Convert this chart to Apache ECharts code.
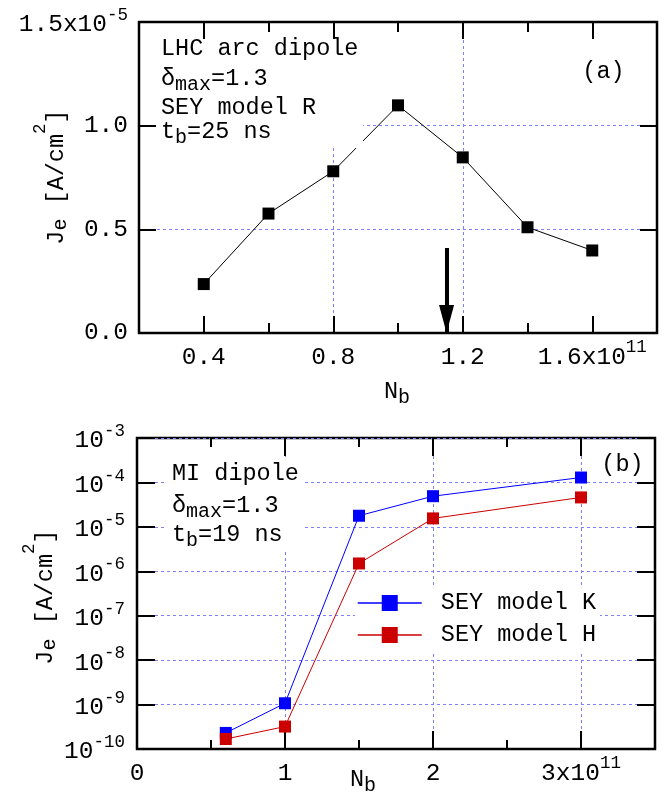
<!DOCTYPE html>
<html>
<head>
<meta charset="utf-8">
<script src="https://cdn.jsdelivr.net/npm/echarts@6/dist/echarts.min.js"></script>
<style>
  html, body { margin: 0; padding: 0; background: #fff; }
  #chart { width: 667px; height: 796px; }
</style>
</head>
<body>
<div id="chart"></div>
<script>
// (a) LHC arc dipole, SEY model R, Je in 1e-5 A/cm2
const nbA = [0.4, 0.6, 0.8, 1.0, 1.2, 1.4, 1.6];
const jeA = [0.236, 0.576, 0.78, 1.098, 0.847, 0.51, 0.398];
const xMajorA = [0.4, 0.8, 1.2, 1.6];
const arrowNb = 1.15, arrowTop = 0.41;

// (b) MI dipole, Nb in 1e11
const nbB = [0.6, 1.0, 1.5, 2.0, 3.0];
const jeK = [2.3e-10, 1.07e-9, 1.78e-5, 4.9e-5, 1.29e-4];
const jeH = [1.68e-10, 3.2e-10, 1.5e-6, 1.55e-5, 4.6e-5];

const FONT = '"Liberation Mono", "DejaVu Sans Mono", monospace';
const tickStyle = { color: '#000', width: 2 };
const gridLine = { color: '#8080ff', width: 1, type: [3, 3] };

const xRich = {
  m: { fontSize: 24.5, fontFamily: FONT, color: '#000', padding: [7, 0, 0, 0] },
  s: { fontSize: 17.5, fontFamily: FONT, color: '#000', verticalAlign: 'top' }
};
const yRich = {
  m: { fontSize: 24.5, fontFamily: FONT, color: '#000', verticalAlign: 'bottom' },
  s: { fontSize: 17.5, fontFamily: FONT, color: '#000', verticalAlign: 'top', padding: [0, 0, 13, 0] }
};
const textRich = {
  n: { fontSize: 23.5, fontFamily: FONT, fill: '#000', verticalAlign: 'top' },
  sub: { fontSize: 20, fontFamily: FONT, fill: '#000', verticalAlign: 'top', padding: [7.6, 0, 0, 0] }
};
const titleRich = {
  n: { fontSize: 23.5, fontFamily: FONT, fill: '#000', verticalAlign: 'top', padding: [13, 0, 0, 0] },
  sub: { fontSize: 20, fontFamily: FONT, fill: '#000', verticalAlign: 'top', padding: [18.75, 0, 0, 0] },
  sup: { fontSize: 17.5, fontFamily: FONT, fill: '#000', verticalAlign: 'top' }
};

function fmtXA(v) { return v === 1.6 ? '{m|1.6x10}{s|11}' : '{m|' + v.toFixed(1) + '}'; }
function fmtYA(v) { return v === 1.5 ? '{m|1.5x10}{s|-5}' : v.toFixed(1); }
function fmtXB(v) { return v === 3 ? '{m|3x10}{s|11}' : '{m|' + v + '}'; }
function fmtYB(v) { return '{m|10}{s|' + Math.round(Math.log10(v)) + '}'; }

// plain tick-only axis (mirror / minor ticks)
function tickAxis(grid, pos, min, max, step, len) {
  return {
    gridIndex: grid, type: 'value', position: pos, min: min, max: max, interval: step,
    axisLine: { show: false, onZero: false },
    axisTick: { inside: true, length: len, lineStyle: tickStyle },
    axisLabel: { show: false }, splitLine: { show: false }
  };
}
function logTickAxis(grid, pos) {
  return {
    gridIndex: grid, type: 'log', logBase: 10, position: pos, min: 1e-10, max: 1e-3, splitNumber: 10,
    axisLine: { show: false, onZero: false },
    axisTick: { inside: true, length: 18, lineStyle: tickStyle },
    axisLabel: { show: false }, splitLine: { show: false }
  };
}

const xTopMajorA = tickAxis(0, 'top', 0.2, 1.8, 0.2, 17);
xTopMajorA.axisTick.customValues = xMajorA;

const option = {
  animation: false,
  backgroundColor: '#fff',
  grid: [
    { left: 139, top: 22, width: 518, height: 311, show: true, borderColor: '#000', borderWidth: 2.5, backgroundColor: 'transparent' },
    { left: 137, top: 438, width: 518, height: 311, show: true, borderColor: '#000', borderWidth: 2.5, backgroundColor: 'transparent' }
  ],
  xAxis: [
    {
      gridIndex: 0, type: 'value', position: 'bottom', min: 0.2, max: 1.8, interval: 0.2,
      axisLine: { show: false, onZero: false },
      axisTick: { inside: true, length: 17, lineStyle: tickStyle, customValues: xMajorA },
      axisLabel: { customValues: xMajorA, margin: 5, formatter: fmtXA, rich: xRich },
      splitLine: { show: true, customValues: xMajorA, showMinLine: false, showMaxLine: false, lineStyle: gridLine }
    },
    tickAxis(0, 'bottom', 0.2, 1.8, 0.2, 10),
    xTopMajorA,
    tickAxis(0, 'top', 0.2, 1.8, 0.2, 10),
    {
      gridIndex: 1, type: 'value', position: 'bottom', min: 0, max: 3.5, interval: 1,
      axisLine: { show: false, onZero: false },
      axisTick: { inside: true, length: 18, lineStyle: tickStyle },
      axisLabel: { margin: 5, formatter: fmtXB, rich: xRich, showMaxLabel: false },
      splitLine: { show: true, showMinLine: false, showMaxLine: false, lineStyle: gridLine }
    },
    tickAxis(1, 'bottom', 0, 3.5, 0.5, 9),
    tickAxis(1, 'top', 0, 3.5, 1, 18),
    tickAxis(1, 'top', 0, 3.5, 0.5, 9)
  ],
  yAxis: [
    {
      gridIndex: 0, type: 'value', position: 'left', min: 0, max: 1.5, interval: 0.5,
      axisLine: { show: false, onZero: false },
      axisTick: { inside: true, length: 17, lineStyle: tickStyle },
      axisLabel: { margin: 11, fontSize: 24.5, fontFamily: FONT, color: '#000', formatter: fmtYA, rich: yRich },
      splitLine: { show: true, showMinLine: false, showMaxLine: false, lineStyle: gridLine }
    },
    tickAxis(0, 'right', 0, 1.5, 0.5, 17),
    {
      gridIndex: 1, type: 'log', logBase: 10, position: 'left', min: 1e-10, max: 1e-3, splitNumber: 10,
      axisLine: { show: false, onZero: false },
      axisTick: { inside: true, length: 18, lineStyle: tickStyle },
      axisLabel: { margin: 12, fontSize: 24.5, fontFamily: FONT, color: '#000', formatter: fmtYB, rich: yRich },
      splitLine: { show: true, showMinLine: false, showMaxLine: false, lineStyle: gridLine }
    },
    logTickAxis(1, 'right')
  ],
  legend: {
    orient: 'vertical', left: 355, top: 585, padding: [6, 4, 6, 2],
    itemWidth: 64, itemHeight: 20, itemGap: 8,
    backgroundColor: '#fff', selectedMode: false,
    data: ['SEY model K', 'SEY model H'],
    formatter: ' {name}',
    lineStyle: { width: 1.5 },
    textStyle: { fontFamily: FONT, fontSize: 23.5, color: '#000' }
  },
  series: [
    {
      name: 'SEY model R', type: 'line', xAxisIndex: 0, yAxisIndex: 0,
      data: nbA.map((x, i) => [x, jeA[i]]),
      symbol: 'rect', symbolSize: 12,
      lineStyle: { color: '#000', width: 1 }, itemStyle: { color: '#000' },
      markLine: {
        silent: true, animation: false,
        symbol: ['none', 'none'],
        label: { show: false },
        lineStyle: { color: '#000', width: 4, type: 'solid' },
        emphasis: { disabled: true },
        data: [[
          { coord: [arrowNb, arrowTop] },
          { coord: [arrowNb, 0], symbol: 'path://M8,0M8,28L16,56L0,56Z', symbolSize: [15, 56] }
        ]]
      }
    },
    {
      name: 'SEY model K', type: 'line', xAxisIndex: 4, yAxisIndex: 2,
      data: nbB.map((x, i) => [x, jeK[i]]),
      symbol: 'rect', symbolSize: 12,
      lineStyle: { color: '#0000ff', width: 1 }, itemStyle: { color: '#0000ff' }
    },
    {
      name: 'SEY model H', type: 'line', xAxisIndex: 4, yAxisIndex: 2,
      data: nbB.map((x, i) => [x, jeH[i]]),
      symbol: 'rect', symbolSize: 12,
      lineStyle: { color: '#cc0000', width: 1 }, itemStyle: { color: '#cc0000' }
    }
  ],
  graphic: { elements: [
    // white boxes behind the in-plot texts
    { type: 'rect', z: 100, shape: { x: 157, y: 40, width: 206, height: 108 }, style: { fill: '#fff' } },
    { type: 'rect', z: 100, shape: { x: 581, y: 60, width: 45, height: 24 }, style: { fill: '#fff' } },
    { type: 'rect', z: 100, shape: { x: 166, y: 457, width: 136, height: 93 }, style: { fill: '#fff' } },
    // panel (a) text
    { type: 'text', z: 101, x: 161, y: 36.7, style: { text: '{n|LHC arc dipole}', rich: textRich, verticalAlign: 'top' } },
    { type: 'text', z: 101, x: 161, y: 66.7, style: { text: '{n|δ}{sub|max}{n|=1.3}', rich: textRich, verticalAlign: 'top' } },
    { type: 'text', z: 101, x: 161, y: 95.7, style: { text: '{n|SEY model R}', rich: textRich, verticalAlign: 'top' } },
    { type: 'text', z: 101, x: 161, y: 119.7, style: { text: '{n|t}{sub|b}{n|=25 ns}', rich: textRich, verticalAlign: 'top' } },
    { type: 'text', z: 101, x: 603.5, y: 59.7, style: { text: '{n|(a)}', rich: textRich, align: 'center', verticalAlign: 'top' } },
    { type: 'text', z: 101, x: 384, y: 379.7, style: { text: '{n|N}{sub|b}', rich: textRich, verticalAlign: 'top' } },
    { type: 'text', z: 101, x: 51, y: 177, rotation: Math.PI / 2,
      style: { text: '{n|J}{sub|e}{n| [A/cm}{sup|2}{n|]}', rich: titleRich, align: 'center', verticalAlign: 'middle' } },
    // panel (b) text
    { type: 'text', z: 101, x: 172, y: 461.7, style: { text: '{n|MI dipole}', rich: textRich, verticalAlign: 'top' } },
    { type: 'text', z: 101, x: 172, y: 493.7, style: { text: '{n|δ}{sub|max}{n|=1.3}', rich: textRich, verticalAlign: 'top' } },
    { type: 'text', z: 101, x: 172, y: 522.7, style: { text: '{n|t}{sub|b}{n|=19 ns}', rich: textRich, verticalAlign: 'top' } },
    { type: 'text', z: 101, x: 622.5, y: 452.7, style: { text: '{n|(b)}', rich: textRich, align: 'center', verticalAlign: 'top' } },
    { type: 'text', z: 101, x: 350, y: 767.7, style: { text: '{n|N}{sub|b}', rich: textRich, verticalAlign: 'top' } },
    { type: 'text', z: 101, x: 40, y: 597, rotation: Math.PI / 2,
      style: { text: '{n|J}{sub|e}{n| [A/cm}{sup|2}{n|]}', rich: titleRich, align: 'center', verticalAlign: 'middle' } }
  ] }
};

const chart = echarts.init(document.getElementById('chart'), null, { renderer: 'canvas' });
chart.setOption(option);
</script>
</body>
</html>
